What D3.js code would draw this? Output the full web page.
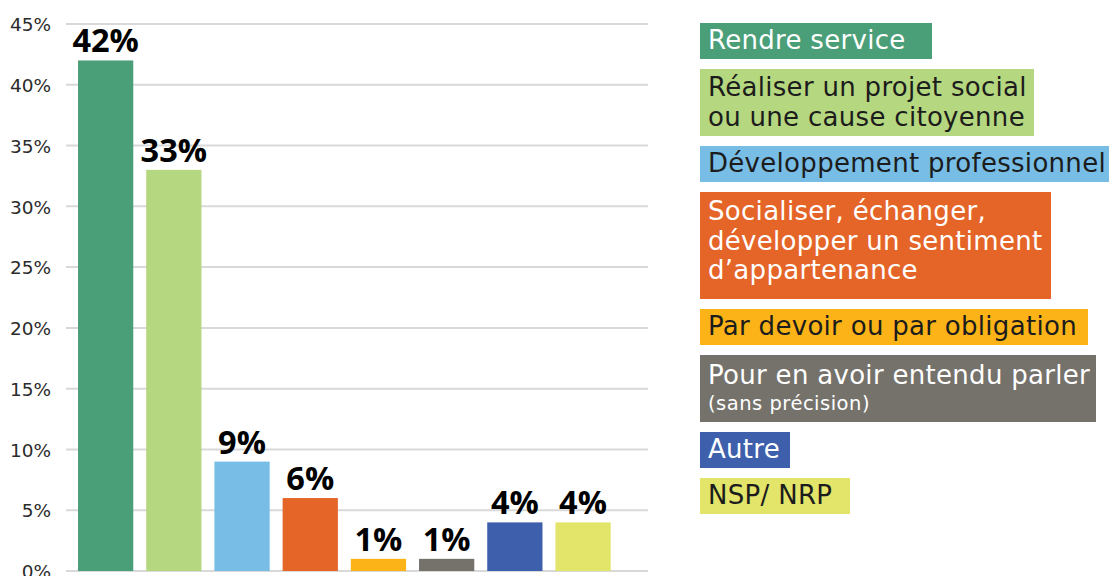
<!DOCTYPE html>
<html><head><meta charset="utf-8">
<script src="https://cdn.jsdelivr.net/npm/d3@7"></script>
<style>body{margin:0;background:#fff}svg{display:block}</style>
</head><body>
<script>
// ---- data ----
const categories = [
  "Rendre service",
  "Réaliser un projet social ou une cause citoyenne",
  "Développement professionnel",
  "Socialiser, échanger, développer un sentiment d'appartenance",
  "Par devoir ou par obligation",
  "Pour en avoir entendu parler (sans précision)",
  "Autre",
  "NSP/ NRP"
];
const values = [42, 33, 9, 6, 1, 1, 4, 4];
const yTicks = [0, 5, 10, 15, 20, 25, 30, 35, 40, 45];
const legendLines = [
  ["Rendre service"],
  ["Réaliser un projet social", "ou une cause citoyenne"],
  ["Développement professionnel"],
  ["Socialiser, échanger,", "développer un sentiment", "d’appartenance"],
  ["Par devoir ou par obligation"],
  ["Pour en avoir entendu parler", "(sans précision)"],
  ["Autre"],
  ["NSP/ NRP"]
];

// ---- styles ----
const colors = ["#4a9e78", "#b5d77f", "#77bde5", "#e56428", "#fbb317", "#75726c", "#3e5fac", "#e3e56a"];
const legendTextColors = ["#fff", "#1c1c1c", "#1c1c1c", "#fff", "#1c1c1c", "#fff", "#fff", "#1c1c1c"];
const legendBoxWidths = [232, 334, 409, 351, 388, 396, 90, 150];
const legendBoxHeights = [36, 67, 36, 107, 36, 67, 36, 36];
const LEGEND_FONT = "'DejaVu Sans', sans-serif";
const LABEL_FONT = "'Open Sans', 'DejaVu Sans', sans-serif";

const W = 1109, H = 576;
const svg = d3.select("body").append("svg").attr("width", W).attr("height", H);

const y = d3.scaleLinear().domain([0, 45]).range([571, 24]);
const x = d3.scaleBand().domain(categories).range([71.2, 617.5]).paddingInner(0.19).paddingOuter(0.1);

// gridlines
svg.append("g").selectAll("line").data(yTicks).join("line")
  .attr("x1", 66).attr("x2", 648)
  .attr("y1", d => y(d)).attr("y2", d => y(d))
  .attr("stroke", "#d9d9d9").attr("stroke-width", 2);

// y axis labels
const yAxis = d3.axisLeft(y).tickValues(yTicks).tickFormat(d => d + "%").tickSize(0).tickPadding(0);
const gAxis = svg.append("g").attr("transform", "translate(51,0)").call(yAxis);
gAxis.select(".domain").remove();
gAxis.selectAll("text").attr("fill", "#2b2b2b")
  .style("font-size", "18.5px").style("font-family", LEGEND_FONT).attr("dy", "0.36em");

// bars
svg.append("g").selectAll("rect").data(values).join("rect")
  .attr("x", (d, i) => x(categories[i]))
  .attr("width", x.bandwidth())
  .attr("y", d => y(d))
  .attr("height", d => y(0) - y(d))
  .attr("fill", (d, i) => colors[i]);

// value labels
svg.append("g").selectAll("text").data(values).join("text")
  .attr("x", (d, i) => x(categories[i]) + x.bandwidth() / 2)
  .attr("y", d => y(d) - 8)
  .attr("text-anchor", "middle")
  .attr("font-family", LABEL_FONT)
  .attr("font-weight", 700)
  .attr("font-size", 32.5)
  .attr("fill", "#000")
  .text(d => d + "%");

// legend
const legendX = 700;
let ly = 23;
legendLines.forEach((lines, i) => {
  const g = svg.append("g").attr("transform", `translate(${legendX},${ly})`);
  g.append("rect").attr("width", legendBoxWidths[i]).attr("height", legendBoxHeights[i]).attr("fill", colors[i]);
  const first = lines.length === 1 ? 26 : (lines.length === 2 ? 27 : 28);
  lines.forEach((t, j) => {
    const small = t.startsWith("(");
    g.append("text")
      .attr("x", 8)
      .attr("y", small ? 55 : (lines.length === 2 && lines[1].startsWith("(") ? 29 : first + j * 29.5))
      .attr("font-family", LEGEND_FONT)
      .attr("font-size", small ? 19.5 : 26)
      .attr("letter-spacing", small ? 0.5 : 0.3)
      .attr("fill", legendTextColors[i])
      .text(t);
  });
  ly += legendBoxHeights[i] + 10;
});
</script>
</body></html>
